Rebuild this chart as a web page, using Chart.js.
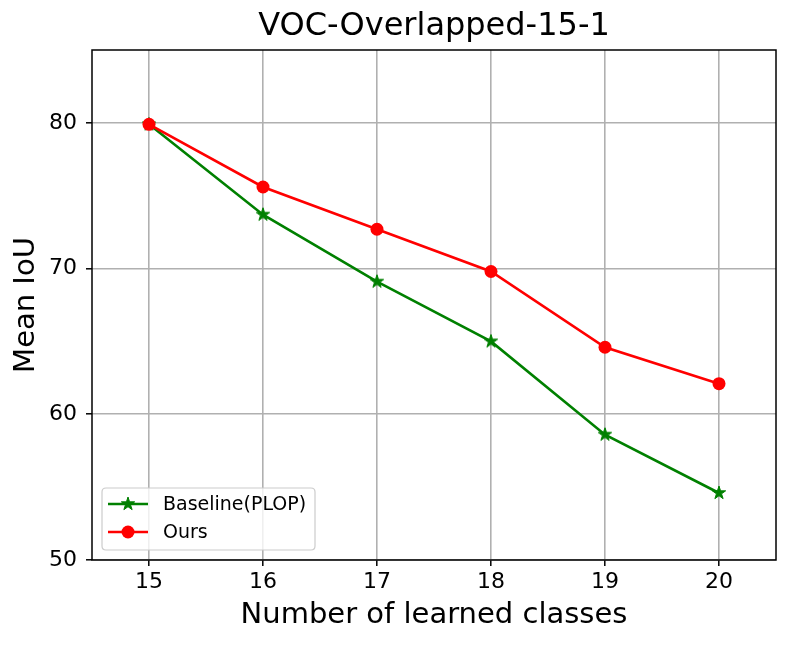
<!DOCTYPE html>
<html>
<head>
<meta charset="utf-8">
<script src="https://cdn.jsdelivr.net/npm/chart.js@4.4.0/dist/chart.umd.min.js"></script>
<style>
  html, body { margin: 0; padding: 0; background: #ffffff; }
  #wrap { width: 790px; height: 645px; }
</style>
</head>
<body>
<div id="wrap"><canvas id="c" width="790" height="645"></canvas></div>
<script>
const chartTitle = 'VOC-Overlapped-15-1';
const xLabel = 'Number of learned classes';
const yLabel = 'Mean IoU';
const classes = [15, 16, 17, 18, 19, 20];
const baselineName = 'Baseline(PLOP)';
const baselineValues = [79.9, 73.7, 69.1, 65.0, 58.6, 54.6];
const oursName = 'Ours';
const oursValues = [79.9, 75.6, 72.7, 69.8, 64.6, 62.1];
const xTicks = [15, 16, 17, 18, 19, 20];
const yTicks = [50, 60, 70, 80];

const FONT = 'DejaVu Sans';

function makeStar(outer, color) {
  const size = Math.ceil(outer * 2 + 2);
  const cv = document.createElement('canvas');
  cv.width = size; cv.height = size;
  const g = cv.getContext('2d');
  const cx = size / 2, cy = size / 2;
  const inner = outer * 0.381966;
  g.beginPath();
  for (let i = 0; i < 10; i++) {
    const r = i % 2 === 0 ? outer : inner;
    const a = -Math.PI / 2 + i * Math.PI / 5;
    const px = cx + r * Math.cos(a), py = cy + r * Math.sin(a);
    if (i === 0) g.moveTo(px, py); else g.lineTo(px, py);
  }
  g.closePath();
  g.fillStyle = color;
  g.fill();
  g.lineWidth = 1;
  g.strokeStyle = color;
  g.stroke();
  return cv;
}
const starImg = makeStar(7, '#008000');

const frameAndLegend = {
  id: 'frameAndLegend',
  afterDraw(chart) {
    const ctx = chart.ctx;
    const a = chart.chartArea;
    ctx.save();
    // frame
    ctx.strokeStyle = '#000000';
    ctx.lineWidth = 1.5;
    ctx.strokeRect(a.left, a.top, a.right - a.left, a.bottom - a.top);
    // legend
    const lx = a.left + 10, ly = a.top + 438, lw = 213, lh = 62, r = 4;
    ctx.beginPath();
    ctx.moveTo(lx + r, ly);
    ctx.lineTo(lx + lw - r, ly);
    ctx.quadraticCurveTo(lx + lw, ly, lx + lw, ly + r);
    ctx.lineTo(lx + lw, ly + lh - r);
    ctx.quadraticCurveTo(lx + lw, ly + lh, lx + lw - r, ly + lh);
    ctx.lineTo(lx + r, ly + lh);
    ctx.quadraticCurveTo(lx, ly + lh, lx, ly + lh - r);
    ctx.lineTo(lx, ly + r);
    ctx.quadraticCurveTo(lx, ly, lx + r, ly);
    ctx.closePath();
    ctx.fillStyle = 'rgba(255,255,255,0.8)';
    ctx.fill();
    ctx.strokeStyle = '#cccccc';
    ctx.lineWidth = 1.2;
    ctx.stroke();
    const items = chart.data.datasets;
    const rowsY = [ly + 16, ly + 44];
    items.forEach((ds, i) => {
      const y = rowsY[i];
      ctx.strokeStyle = ds.borderColor;
      ctx.lineWidth = ds.borderWidth;
      ctx.beginPath();
      ctx.moveTo(lx + 6, y);
      ctx.lineTo(lx + 46, y);
      ctx.stroke();
      if (ds.pointStyle === 'circle') {
        ctx.fillStyle = ds.pointBackgroundColor;
        ctx.beginPath();
        ctx.arc(lx + 26, y, ds.pointRadius, 0, Math.PI * 2);
        ctx.fill();
      } else {
        ctx.drawImage(ds.pointStyle, lx + 26 - ds.pointStyle.width / 2, y - ds.pointStyle.height / 2);
      }
      ctx.fillStyle = '#000000';
      ctx.font = '19px "' + FONT + '"';
      ctx.textAlign = 'left';
      ctx.textBaseline = 'middle';
      ctx.fillText(ds.label, lx + 61, y + 1);
    });
    ctx.restore();
  }
};

new Chart(document.getElementById('c'), {
  type: 'line',
  data: {
    datasets: [
      {
        label: baselineName,
        data: classes.map((c, i) => ({ x: c, y: baselineValues[i] })),
        borderColor: '#008000',
        backgroundColor: '#008000',
        borderWidth: 2.6,
        pointStyle: starImg,
        pointRadius: 7,
        pointBackgroundColor: '#008000',
        tension: 0,
        order: 2
      },
      {
        label: oursName,
        data: classes.map((c, i) => ({ x: c, y: oursValues[i] })),
        borderColor: '#ff0000',
        backgroundColor: '#ff0000',
        borderWidth: 2.6,
        pointStyle: 'circle',
        pointRadius: 6.5,
        pointBorderWidth: 0,
        pointBackgroundColor: '#ff0000',
        tension: 0,
        order: 1
      }
    ]
  },
  options: {
    responsive: false,
    animation: false,
    devicePixelRatio: 1,
    layout: { padding: { left: 0, right: 14, top: 0, bottom: 0 } },
    plugins: {
      legend: { display: false },
      tooltip: { enabled: false },
      title: {
        display: true,
        fullSize: false,
        text: chartTitle,
        color: '#000000',
        font: { family: FONT, size: 32, weight: 'normal', lineHeight: 1.2 },
        padding: { top: 7, bottom: 4.6 }
      }
    },
    scales: {
      x: {
        type: 'linear',
        min: 14.5,
        max: 20.5,
        afterBuildTicks: (s) => { s.ticks = xTicks.map(v => ({ value: v })); },
        afterFit: (s) => { s.height = 85; },
        ticks: {
          color: '#000000',
          font: { family: FONT, size: 22 },
          padding: 3,
          maxRotation: 0,
          callback: (v) => String(v)
        },
        grid: {
          color: '#b0b0b0',
          lineWidth: 1.6,
          tickColor: '#000000',
          tickLength: 6,
          tickWidth: 1.5
        },
        border: { display: false },
        title: {
          display: true,
          text: xLabel,
          color: '#000000',
          font: { family: FONT, size: 29, lineHeight: 1.2 },
          padding: { top: 0, bottom: 12 }
        }
      },
      y: {
        type: 'linear',
        min: 50,
        max: 85,
        afterBuildTicks: (s) => { s.ticks = yTicks.map(v => ({ value: v })); },
        afterFit: (s) => { s.width = 92; },
        ticks: {
          color: '#000000',
          font: { family: FONT, size: 22 },
          padding: 9,
          callback: (v) => String(v)
        },
        grid: {
          color: '#b0b0b0',
          lineWidth: 1.6,
          tickColor: '#000000',
          tickLength: 6,
          tickWidth: 1.5
        },
        border: { display: false },
        title: {
          display: true,
          text: yLabel,
          color: '#000000',
          font: { family: FONT, size: 29, lineHeight: 1.2 },
          padding: { top: 9, bottom: 0 }
        }
      }
    }
  },
  plugins: [frameAndLegend]
});
</script>
</body>
</html>
